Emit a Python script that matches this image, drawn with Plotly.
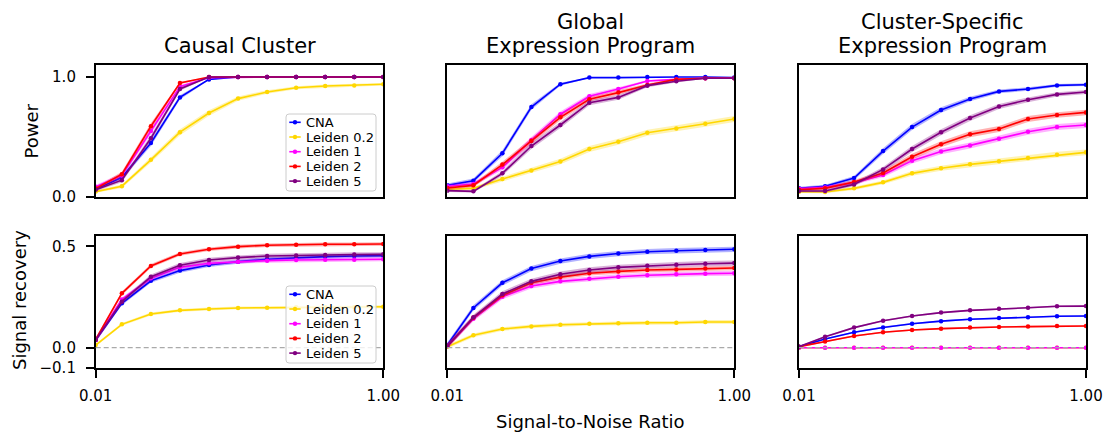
import plotly.graph_objects as go

# ---------------- data ----------------
snr = [0.01, 0.1, 0.2, 0.3, 0.4, 0.5, 0.6, 0.7, 0.8, 0.9, 1.0]
methods = ["CNA", "Leiden 0.2", "Leiden 1", "Leiden 2", "Leiden 5"]
panel_titles = [["Causal Cluster"], ["Global", "Expression Program"],
                ["Cluster-Specific", "Expression Program"]]
y_labels = ["Power", "Signal recovery"]
x_label = "Signal-to-Noise Ratio"
x_tickvals = [0.01, 1.0]
x_ticktext = ["0.01", "1.00"]
power_tickvals = [0.0, 1.0]
power_ticktext = ["0.0", "1.0"]
recov_tickvals = [-0.1, 0.0, 0.5]
recov_ticktext = ["\u22120.1", "0.0", "0.5"]

power_causal = {
    "CNA":        [0.064, 0.164, 0.45, 0.83, 0.98, 1.0, 1.0, 1.0, 1.0, 1.0, 1.0],
    "Leiden 0.2": [0.045, 0.09, 0.31, 0.54, 0.70, 0.82, 0.875, 0.91, 0.925, 0.93, 0.94],
    "Leiden 1":   [0.085, 0.18, 0.55, 0.92, 0.995, 1.0, 1.0, 1.0, 1.0, 1.0, 1.0],
    "Leiden 2":   [0.07, 0.19, 0.59, 0.95, 1.0, 1.0, 1.0, 1.0, 1.0, 1.0, 1.0],
    "Leiden 5":   [0.06, 0.14, 0.49, 0.90, 1.0, 1.0, 1.0, 1.0, 1.0, 1.0, 1.0],
}
power_causal_se = {
    "CNA":        [0.012, 0.018, 0.025, 0.018, 0.006, 0, 0, 0, 0, 0, 0],
    "Leiden 0.2": [0.010, 0.014, 0.022, 0.025, 0.022, 0.018, 0.015, 0.013, 0.012, 0.012, 0.011],
    "Leiden 1":   [0.014, 0.020, 0.025, 0.014, 0.004, 0, 0, 0, 0, 0, 0],
    "Leiden 2":   [0.012, 0.020, 0.025, 0.011, 0, 0, 0, 0, 0, 0, 0],
    "Leiden 5":   [0.012, 0.017, 0.025, 0.015, 0, 0, 0, 0, 0, 0, 0],
}
power_global = {
    "CNA":        [0.097, 0.136, 0.364, 0.75, 0.94, 0.995, 0.995, 1.0, 1.0, 1.0, 0.995],
    "Leiden 0.2": [0.064, 0.072, 0.15, 0.22, 0.295, 0.40, 0.46, 0.535, 0.57, 0.61, 0.65],
    "Leiden 1":   [0.09, 0.108, 0.247, 0.475, 0.69, 0.84, 0.90, 0.967, 0.98, 0.99, 0.99],
    "Leiden 2":   [0.075, 0.097, 0.27, 0.466, 0.664, 0.814, 0.87, 0.933, 0.98, 0.99, 0.99],
    "Leiden 5":   [0.053, 0.047, 0.197, 0.425, 0.60, 0.786, 0.83, 0.928, 0.964, 0.99, 0.99],
}
power_global_se = {
    "CNA":        [0.015, 0.018, 0.025, 0.022, 0.012, 0.003, 0.003, 0, 0, 0, 0.003],
    "Leiden 0.2": [0.012, 0.013, 0.018, 0.021, 0.023, 0.025, 0.025, 0.025, 0.025, 0.025, 0.024],
    "Leiden 1":   [0.014, 0.016, 0.022, 0.025, 0.023, 0.018, 0.015, 0.009, 0.007, 0.005, 0.005],
    "Leiden 2":   [0.013, 0.015, 0.023, 0.025, 0.024, 0.019, 0.017, 0.012, 0.007, 0.005, 0.005],
    "Leiden 5":   [0.011, 0.010, 0.020, 0.025, 0.025, 0.021, 0.019, 0.013, 0.009, 0.005, 0.005],
}
power_specific = {
    "CNA":        [0.072, 0.089, 0.158, 0.383, 0.583, 0.725, 0.817, 0.88, 0.90, 0.93, 0.936],
    "Leiden 0.2": [0.044, 0.042, 0.072, 0.122, 0.197, 0.239, 0.272, 0.297, 0.325, 0.353, 0.372],
    "Leiden 1":   [0.069, 0.08, 0.12, 0.183, 0.303, 0.38, 0.43, 0.486, 0.544, 0.583, 0.60],
    "Leiden 2":   [0.061, 0.072, 0.125, 0.20, 0.336, 0.439, 0.522, 0.567, 0.65, 0.683, 0.705],
    "Leiden 5":   [0.05, 0.05, 0.105, 0.23, 0.40, 0.54, 0.658, 0.755, 0.81, 0.855, 0.875],
}
power_specific_se = {
    "CNA":        [0.013, 0.014, 0.018, 0.024, 0.025, 0.022, 0.019, 0.016, 0.015, 0.012, 0.012],
    "Leiden 0.2": [0.010, 0.010, 0.013, 0.016, 0.020, 0.021, 0.022, 0.023, 0.023, 0.024, 0.024],
    "Leiden 1":   [0.013, 0.014, 0.016, 0.019, 0.023, 0.024, 0.025, 0.025, 0.025, 0.025, 0.024],
    "Leiden 2":   [0.012, 0.013, 0.016, 0.020, 0.024, 0.025, 0.025, 0.025, 0.024, 0.023, 0.023],
    "Leiden 5":   [0.011, 0.011, 0.015, 0.021, 0.024, 0.025, 0.024, 0.021, 0.020, 0.018, 0.017],
}
recovery_causal = {
    "CNA":        [0.038, 0.219, 0.33, 0.38, 0.408, 0.424, 0.436, 0.444, 0.449, 0.452, 0.454],
    "Leiden 0.2": [0.013, 0.115, 0.166, 0.184, 0.191, 0.196, 0.197, 0.199, 0.2, 0.2, 0.202],
    "Leiden 1":   [0.038, 0.238, 0.342, 0.396, 0.416, 0.424, 0.429, 0.432, 0.434, 0.434, 0.436],
    "Leiden 2":   [0.041, 0.268, 0.403, 0.462, 0.485, 0.498, 0.505, 0.508, 0.51, 0.51, 0.511],
    "Leiden 5":   [0.038, 0.227, 0.35, 0.406, 0.432, 0.444, 0.452, 0.455, 0.457, 0.459, 0.46],
}
recovery_causal_se = {"CNA": 0.010, "Leiden 0.2": 0.007, "Leiden 1": 0.010,
                      "Leiden 2": 0.009, "Leiden 5": 0.011}
recovery_global = {
    "CNA":        [0.013, 0.196, 0.32, 0.39, 0.427, 0.45, 0.464, 0.473, 0.478, 0.482, 0.485],
    "Leiden 0.2": [0.005, 0.061, 0.092, 0.105, 0.113, 0.118, 0.12, 0.123, 0.123, 0.127, 0.127],
    "Leiden 1":   [0.008, 0.143, 0.251, 0.304, 0.327, 0.34, 0.35, 0.357, 0.362, 0.365, 0.367],
    "Leiden 2":   [0.008, 0.148, 0.258, 0.32, 0.348, 0.367, 0.376, 0.383, 0.386, 0.39, 0.393],
    "Leiden 5":   [0.008, 0.15, 0.265, 0.327, 0.362, 0.383, 0.396, 0.404, 0.409, 0.414, 0.417],
}
recovery_global_se = {"CNA": 0.013, "Leiden 0.2": 0.009, "Leiden 1": 0.012,
                      "Leiden 2": 0.011, "Leiden 5": 0.013}
recovery_specific = {
    "CNA":        [0.005, 0.043, 0.076, 0.1, 0.118, 0.131, 0.14, 0.146, 0.15, 0.155, 0.156],
    "Leiden 0.2": [0, 0, 0, 0, 0, 0, 0, 0, 0, 0, 0],
    "Leiden 1":   [0, 0, 0, 0, 0, 0, 0, 0, 0, 0, 0],
    "Leiden 2":   [0.005, 0.031, 0.058, 0.076, 0.087, 0.094, 0.099, 0.102, 0.104, 0.107, 0.107],
    "Leiden 5":   [0.005, 0.054, 0.099, 0.133, 0.156, 0.173, 0.184, 0.192, 0.197, 0.204, 0.205],
}
recovery_specific_se = {"CNA": 0.004, "Leiden 0.2": 0.0, "Leiden 1": 0.0,
                        "Leiden 2": 0.004, "Leiden 5": 0.004}

# ---------------- style ----------------
colors = {"CNA": "#0000ff", "Leiden 0.2": "#ffd700", "Leiden 1": "#ff00ff",
          "Leiden 2": "#ff0000", "Leiden 5": "#800080"}
band_colors = {"CNA": "rgba(0,0,255,0.3)", "Leiden 0.2": "rgba(255,215,0,0.3)",
               "Leiden 1": "rgba(255,0,255,0.3)", "Leiden 2": "rgba(255,0,0,0.3)",
               "Leiden 5": "rgba(128,0,128,0.3)"}
FONT = "DejaVu Sans"
W, H = 1108, 433
col_px = [(95.7, 383.3), (447.3, 734.3), (799.0, 1086.0)]
row_px = [(65.0, 197.0), (235.7, 368.0)]

panels = [
    [(power_causal, power_causal_se), (power_global, power_global_se),
     (power_specific, power_specific_se)],
    [(recovery_causal, recovery_causal_se), (recovery_global, recovery_global_se),
     (recovery_specific, recovery_specific_se)],
]

fig = go.Figure()
layout = dict(template="none", width=W, height=H, margin=dict(l=0, r=0, t=0, b=0),
              paper_bgcolor="white", plot_bgcolor="white",
              font=dict(family=FONT, color="black", size=15),
              showlegend=False)

for r in range(2):
    for c in range(3):
        idx = r * 3 + c + 1
        xa = "x" if idx == 1 else f"x{idx}"
        ya = "y" if idx == 1 else f"y{idx}"
        data, se = panels[r][c]
        for m in methods:
            vals = data[m]
            err = se[m] if isinstance(se[m], list) else [se[m]] * len(vals)
            upper = [v + e for v, e in zip(vals, err)]
            lower = [v - e for v, e in zip(vals, err)]
            fig.add_trace(go.Scatter(
                x=snr + snr[::-1], y=upper + lower[::-1], xaxis=xa, yaxis=ya,
                fill="toself", fillcolor=band_colors[m], line=dict(width=0),
                mode="lines", hoverinfo="skip", showlegend=False))
            fig.add_trace(go.Scatter(
                x=snr, y=vals, xaxis=xa, yaxis=ya, name=m, mode="lines+markers",
                line=dict(color=colors[m], width=1.6),
                marker=dict(color=colors[m], size=4.5), showlegend=False))

        x0, x1 = col_px[c]
        y0, y1 = row_px[r]
        xkey = "xaxis" if idx == 1 else f"xaxis{idx}"
        ykey = "yaxis" if idx == 1 else f"yaxis{idx}"
        layout[xkey] = dict(
            domain=[x0 / W, x1 / W], anchor=ya, range=[0.01, 1.0], automargin=False,
            showgrid=False, zeroline=False, showline=True, mirror=True,
            linecolor="black", linewidth=1.5,
            tickvals=x_tickvals, ticktext=x_ticktext,
            ticks="outside" if r == 1 else "", ticklen=8, tickwidth=1.5,
            tickcolor="black", showticklabels=(r == 1),
            tickfont=dict(family=FONT, size=15, color="black"),
            ticklabelstandoff=5)
        layout[ykey] = dict(
            domain=[1 - y1 / H, 1 - y0 / H], anchor=xa, automargin=False,
            range=[0.0, 1.1] if r == 0 else [-0.1, 0.552],
            showgrid=False, zeroline=False, showline=True, mirror=True,
            linecolor="black", linewidth=1.5,
            tickvals=power_tickvals if r == 0 else recov_tickvals,
            ticktext=power_ticktext if r == 0 else recov_ticktext,
            ticks="outside" if c == 0 else "", ticklen=8, tickwidth=1.5,
            tickcolor="black", showticklabels=(c == 0),
            tickfont=dict(family=FONT, size=15, color="black"),
            ticklabelstandoff=7)

shapes = []
ann = []

# dashed zero lines on the bottom row
for c in range(3):
    idx = 4 + c
    shapes.append(dict(type="line", xref=f"x{idx} domain", yref=f"y{idx}",
                       x0=0, x1=1, y0=0, y1=0, layer="above",
                       line=dict(color="#aaaaaa", width=1.3, dash="5px,3px")))

# compact legends (matplotlib-style) in the left column panels
def px_x(v):
    return v / W

def px_y(v):
    return 1 - v / H

for box_top in (114.0, 286.0):
    bx0, bx1, by0, by1 = 286.0, 376.0, box_top, box_top + 77.0
    rad = 3.0
    path = (f"M {px_x(bx0 + rad)},{px_y(by0)} L {px_x(bx1 - rad)},{px_y(by0)} "
            f"Q {px_x(bx1)},{px_y(by0)} {px_x(bx1)},{px_y(by0 + rad)} "
            f"L {px_x(bx1)},{px_y(by1 - rad)} Q {px_x(bx1)},{px_y(by1)} {px_x(bx1 - rad)},{px_y(by1)} "
            f"L {px_x(bx0 + rad)},{px_y(by1)} Q {px_x(bx0)},{px_y(by1)} {px_x(bx0)},{px_y(by1 - rad)} "
            f"L {px_x(bx0)},{px_y(by0 + rad)} Q {px_x(bx0)},{px_y(by0)} {px_x(bx0 + rad)},{px_y(by0)} Z")
    shapes.append(dict(type="path", xref="paper", yref="paper", path=path, layer="above",
                       fillcolor="rgba(255,255,255,0.8)",
                       line=dict(color="#cccccc", width=1)))
    for k, m in enumerate(methods):
        ey = box_top + 8.3 + k * 14.7
        shapes.append(dict(type="line", xref="paper", yref="paper", layer="above",
                           x0=px_x(289.3), x1=px_x(300.7), y0=px_y(ey), y1=px_y(ey),
                           line=dict(color=colors[m], width=1.6)))
        shapes.append(dict(type="circle", xref="paper", yref="paper", layer="above",
                           x0=px_x(292.8), x1=px_x(297.2), y0=px_y(ey - 2.2), y1=px_y(ey + 2.2),
                           fillcolor=colors[m], line=dict(width=0)))
        ann.append(dict(text=m, x=px_x(304.0), y=px_y(ey), xref="paper", yref="paper",
                        showarrow=False, xanchor="left", yanchor="middle",
                        font=dict(family=FONT, size=13, color="black")))

# titles and axis labels
for c, lines in enumerate(panel_titles):
    cx = (col_px[c][0] + col_px[c][1]) / 2 / W
    ys = [46] if len(lines) == 1 else [22, 46]
    for text, ypx in zip(lines, ys):
        ann.append(dict(text=text, x=cx, y=px_y(ypx), xref="paper", yref="paper",
                        showarrow=False, xanchor="center", yanchor="middle",
                        font=dict(family=FONT, size=21, color="black")))
ann.append(dict(text=y_labels[0], x=px_x(31), y=px_y(131.5), xref="paper", yref="paper",
                showarrow=False, textangle=-90, xanchor="center", yanchor="middle",
                font=dict(family=FONT, size=18, color="black")))
ann.append(dict(text=y_labels[1], x=px_x(19), y=px_y(300), xref="paper", yref="paper",
                showarrow=False, textangle=-90, xanchor="center", yanchor="middle",
                font=dict(family=FONT, size=18, color="black")))
ann.append(dict(text=x_label, x=px_x(590.8), y=px_y(421), xref="paper", yref="paper",
                showarrow=False, xanchor="center", yanchor="middle",
                font=dict(family=FONT, size=18, color="black")))

layout["shapes"] = shapes
layout["annotations"] = ann

fig.update_layout(**layout)
fig.write_html("out.html")
